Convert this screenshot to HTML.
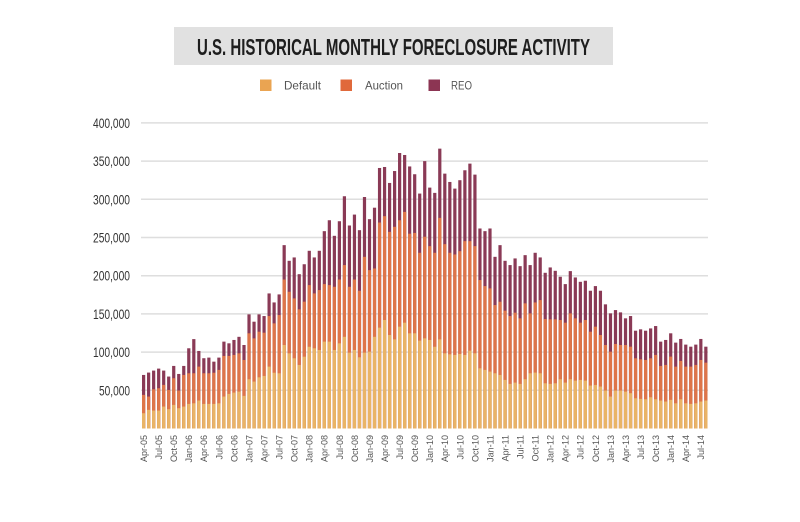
<!DOCTYPE html>
<html>
<head>
<meta charset="utf-8">
<style>
html,body{margin:0;padding:0;background:#fff;}
body{width:800px;height:522px;overflow:hidden;}
svg{display:block;font-family:"Liberation Sans",sans-serif;}
</style>
</head>
<body>
<svg width="800" height="522" viewBox="0 0 800 522" xmlns="http://www.w3.org/2000/svg">
<rect x="0" y="0" width="800" height="522" fill="#ffffff"/>
<!-- Title -->
<rect x="174" y="27" width="439" height="38" fill="#e1e1e1"/>
<text x="393.5" y="55" text-anchor="middle" textLength="393" lengthAdjust="spacingAndGlyphs" font-size="23" font-weight="bold" fill="#1e1e1e">U.S. HISTORICAL MONTHLY FORECLOSURE ACTIVITY</text>
<!-- Legend -->
<rect x="260" y="79.5" width="11.5" height="11.5" fill="#eaa452"/>
<text x="284" y="89.5" font-size="12" fill="#555" textLength="37" lengthAdjust="spacingAndGlyphs">Default</text>
<rect x="340.5" y="79.5" width="11.5" height="11.5" fill="#e0693b"/>
<text x="365" y="89.5" font-size="12" fill="#555" textLength="38" lengthAdjust="spacingAndGlyphs">Auction</text>
<rect x="428.5" y="79.5" width="11.5" height="11.5" fill="#8c3553"/>
<text x="451" y="89.5" font-size="12" fill="#555" textLength="21" lengthAdjust="spacingAndGlyphs">REO</text>
<!-- Gridlines -->
<g stroke="#dedede" stroke-width="1.5">
<line x1="141" y1="122.9" x2="708" y2="122.9"/>
<line x1="141" y1="161.1" x2="708" y2="161.1"/>
<line x1="141" y1="199.3" x2="708" y2="199.3"/>
<line x1="141" y1="237.5" x2="708" y2="237.5"/>
<line x1="141" y1="275.7" x2="708" y2="275.7"/>
<line x1="141" y1="313.9" x2="708" y2="313.9"/>
<line x1="141" y1="352.1" x2="708" y2="352.1"/>
<line x1="141" y1="390.3" x2="708" y2="390.3"/>
</g>
<!-- Y labels -->
<g font-size="13.5" fill="#333" text-anchor="end">
<text x="130" y="127.9" textLength="37" lengthAdjust="spacingAndGlyphs">400,000</text>
<text x="130" y="166.1" textLength="37" lengthAdjust="spacingAndGlyphs">350,000</text>
<text x="130" y="204.3" textLength="37" lengthAdjust="spacingAndGlyphs">300,000</text>
<text x="130" y="242.5" textLength="37" lengthAdjust="spacingAndGlyphs">250,000</text>
<text x="130" y="280.7" textLength="37" lengthAdjust="spacingAndGlyphs">200,000</text>
<text x="130" y="318.9" textLength="37" lengthAdjust="spacingAndGlyphs">150,000</text>
<text x="130" y="357.1" textLength="37" lengthAdjust="spacingAndGlyphs">100,000</text>
<text x="130" y="395.3" textLength="31" lengthAdjust="spacingAndGlyphs">50,000</text>
</g>
<!-- Bars -->
<g transform="translate(142 428.5) scale(5.02 -0.764)">
<g fill="#8a3a56">
<rect x="0" width=".64" height="70.1"/><rect x="1" width=".64" height="73.2"/><rect x="2" width=".64" height="75.8"/><rect x="3" width=".64" height="78.4"/><rect x="4" width=".64" height="75.8"/><rect x="5" width=".64" height="68"/><rect x="6" width=".64" height="81.9"/><rect x="7" width=".64" height="71.4"/><rect x="8" width=".64" height="81.9"/><rect x="9" width=".64" height="105"/>
<rect x="10" width=".64" height="117"/><rect x="11" width=".64" height="101.5"/><rect x="12" width=".64" height="92"/><rect x="13" width=".64" height="92.8"/><rect x="14" width=".64" height="87.5"/><rect x="15" width=".64" height="92.8"/><rect x="16" width=".64" height="113.7"/><rect x="17" width=".64" height="111.5"/><rect x="18" width=".64" height="115.9"/><rect x="19" width=".64" height="120"/>
<rect x="20" width=".64" height="109.3"/><rect x="21" width=".64" height="149.4"/><rect x="22" width=".64" height="139.8"/><rect x="23" width=".64" height="149.4"/><rect x="24" width=".64" height="147.2"/><rect x="25" width=".64" height="176.8"/><rect x="26" width=".64" height="165"/><rect x="27" width=".64" height="175.5"/><rect x="28" width=".64" height="240"/><rect x="29" width=".64" height="219.5"/>
<rect x="30" width=".64" height="223.9"/><rect x="31" width=".64" height="202"/><rect x="32" width=".64" height="215"/><rect x="33" width=".64" height="232.6"/><rect x="34" width=".64" height="223.9"/><rect x="35" width=".64" height="232.6"/><rect x="36" width=".64" height="258.3"/><rect x="37" width=".64" height="272.6"/><rect x="38" width=".64" height="252.2"/><rect x="39" width=".64" height="271.3"/>
<rect x="40" width=".64" height="304"/><rect x="41" width=".64" height="265.7"/><rect x="42" width=".64" height="280"/><rect x="43" width=".64" height="259.6"/><rect x="44" width=".64" height="303"/><rect x="45" width=".64" height="274"/><rect x="46" width=".64" height="289"/><rect x="47" width=".64" height="341"/><rect x="48" width=".64" height="342.3"/><rect x="49" width=".64" height="321.4"/>
<rect x="50" width=".64" height="337"/><rect x="51" width=".64" height="360.6"/><rect x="52" width=".64" height="358"/><rect x="53" width=".64" height="343"/><rect x="54" width=".64" height="332.8"/><rect x="55" width=".64" height="307.5"/><rect x="56" width=".64" height="350"/><rect x="57" width=".64" height="315.3"/><rect x="58" width=".64" height="308.4"/><rect x="59" width=".64" height="366.3"/>
<rect x="60" width=".64" height="333.6"/><rect x="61" width=".64" height="322.7"/><rect x="62" width=".64" height="314"/><rect x="63" width=".64" height="325"/><rect x="64" width=".64" height="338"/><rect x="65" width=".64" height="346.7"/><rect x="66" width=".64" height="332.3"/><rect x="67" width=".64" height="261.8"/><rect x="68" width=".64" height="258.3"/><rect x="69" width=".64" height="261.8"/>
<rect x="70" width=".64" height="224.7"/><rect x="71" width=".64" height="240"/><rect x="72" width=".64" height="219.5"/><rect x="73" width=".64" height="213.9"/><rect x="74" width=".64" height="222.6"/><rect x="75" width=".64" height="212.5"/><rect x="76" width=".64" height="226.9"/><rect x="77" width=".64" height="213.9"/><rect x="78" width=".64" height="230"/><rect x="79" width=".64" height="223.9"/>
<rect x="80" width=".64" height="203.8"/><rect x="81" width=".64" height="210.8"/><rect x="82" width=".64" height="206.4"/><rect x="83" width=".64" height="198.6"/><rect x="84" width=".64" height="189"/><rect x="85" width=".64" height="206"/><rect x="86" width=".64" height="197.7"/><rect x="87" width=".64" height="192"/><rect x="88" width=".64" height="193.4"/><rect x="89" width=".64" height="180.3"/>
<rect x="90" width=".64" height="186.4"/><rect x="91" width=".64" height="180.3"/><rect x="92" width=".64" height="162.5"/><rect x="93" width=".64" height="150.7"/><rect x="94" width=".64" height="155"/><rect x="95" width=".64" height="152"/><rect x="96" width=".64" height="144.2"/><rect x="97" width=".64" height="147.2"/><rect x="98" width=".64" height="128"/><rect x="99" width=".64" height="129.8"/>
<rect x="100" width=".64" height="128"/><rect x="101" width=".64" height="131"/><rect x="102" width=".64" height="134.1"/><rect x="103" width=".64" height="113.7"/><rect x="104" width=".64" height="115.9"/><rect x="105" width=".64" height="124.6"/><rect x="106" width=".64" height="112.4"/><rect x="107" width=".64" height="117.2"/><rect x="108" width=".64" height="109.8"/><rect x="109" width=".64" height="107.1"/>
<rect x="110" width=".64" height="109.8"/><rect x="111" width=".64" height="117.2"/><rect x="112" width=".64" height="107.1"/>
</g>
<g fill="#de7549">
<rect x="0" width=".64" height="44"/><rect x="1" width=".64" height="41.8"/><rect x="2" width=".64" height="51.4"/><rect x="3" width=".64" height="52.7"/><rect x="4" width=".64" height="57.1"/><rect x="5" width=".64" height="50.5"/><rect x="6" width=".64" height="65.8"/><rect x="7" width=".64" height="49.7"/><rect x="8" width=".64" height="70.1"/><rect x="9" width=".64" height="72.3"/>
<rect x="10" width=".64" height="72.3"/><rect x="11" width=".64" height="81"/><rect x="12" width=".64" height="72.3"/><rect x="13" width=".64" height="72.3"/><rect x="14" width=".64" height="73"/><rect x="15" width=".64" height="76.7"/><rect x="16" width=".64" height="95"/><rect x="17" width=".64" height="95"/><rect x="18" width=".64" height="96.3"/><rect x="19" width=".64" height="98.4"/>
<rect x="20" width=".64" height="89.7"/><rect x="21" width=".64" height="124.6"/><rect x="22" width=".64" height="118"/><rect x="23" width=".64" height="126.7"/><rect x="24" width=".64" height="125.4"/><rect x="25" width=".64" height="147.2"/><rect x="26" width=".64" height="137.6"/><rect x="27" width=".64" height="148.5"/><rect x="28" width=".64" height="195"/><rect x="29" width=".64" height="179"/>
<rect x="30" width=".64" height="170.3"/><rect x="31" width=".64" height="156"/><rect x="32" width=".64" height="166"/><rect x="33" width=".64" height="187.7"/><rect x="34" width=".64" height="176.8"/><rect x="35" width=".64" height="181.2"/><rect x="36" width=".64" height="189"/><rect x="37" width=".64" height="187.7"/><rect x="38" width=".64" height="185.5"/><rect x="39" width=".64" height="195"/>
<rect x="40" width=".64" height="213.9"/><rect x="41" width=".64" height="185.5"/><rect x="42" width=".64" height="195"/><rect x="43" width=".64" height="180.3"/><rect x="44" width=".64" height="224.7"/><rect x="45" width=".64" height="207.3"/><rect x="46" width=".64" height="209.5"/><rect x="47" width=".64" height="269.6"/><rect x="48" width=".64" height="277.9"/><rect x="49" width=".64" height="257.4"/>
<rect x="50" width=".64" height="264"/><rect x="51" width=".64" height="272.6"/><rect x="52" width=".64" height="283.5"/><rect x="53" width=".64" height="255"/><rect x="54" width=".64" height="256"/><rect x="55" width=".64" height="230"/><rect x="56" width=".64" height="251"/><rect x="57" width=".64" height="238.7"/><rect x="58" width=".64" height="230"/><rect x="59" width=".64" height="275.7"/>
<rect x="60" width=".64" height="241.3"/><rect x="61" width=".64" height="230"/><rect x="62" width=".64" height="227.8"/><rect x="63" width=".64" height="232.1"/><rect x="64" width=".64" height="245.2"/><rect x="65" width=".64" height="245.2"/><rect x="66" width=".64" height="238.7"/><rect x="67" width=".64" height="194.3"/><rect x="68" width=".64" height="186.4"/><rect x="69" width=".64" height="183.4"/>
<rect x="70" width=".64" height="161.6"/><rect x="71" width=".64" height="165.9"/><rect x="72" width=".64" height="154.2"/><rect x="73" width=".64" height="147.2"/><rect x="74" width=".64" height="151.6"/><rect x="75" width=".64" height="144.2"/><rect x="76" width=".64" height="163.8"/><rect x="77" width=".64" height="150.7"/><rect x="78" width=".64" height="165"/><rect x="79" width=".64" height="168.1"/>
<rect x="80" width=".64" height="143.3"/><rect x="81" width=".64" height="142.9"/><rect x="82" width=".64" height="142.9"/><rect x="83" width=".64" height="142"/><rect x="84" width=".64" height="138.5"/><rect x="85" width=".64" height="150.7"/><rect x="86" width=".64" height="144.2"/><rect x="87" width=".64" height="138.5"/><rect x="88" width=".64" height="142"/><rect x="89" width=".64" height="126.7"/>
<rect x="90" width=".64" height="133.3"/><rect x="91" width=".64" height="122.4"/><rect x="92" width=".64" height="109.3"/><rect x="93" width=".64" height="100.6"/><rect x="94" width=".64" height="110.6"/><rect x="95" width=".64" height="109.3"/><rect x="96" width=".64" height="109.3"/><rect x="97" width=".64" height="107.1"/><rect x="98" width=".64" height="91.9"/><rect x="99" width=".64" height="90.6"/>
<rect x="100" width=".64" height="89.7"/><rect x="101" width=".64" height="91.9"/><rect x="102" width=".64" height="96.3"/><rect x="103" width=".64" height="81.9"/><rect x="104" width=".64" height="83.2"/><rect x="105" width=".64" height="94.1"/><rect x="106" width=".64" height="81"/><rect x="107" width=".64" height="88.4"/><rect x="108" width=".64" height="81"/><rect x="109" width=".64" height="81"/>
<rect x="110" width=".64" height="83.2"/><rect x="111" width=".64" height="89.7"/><rect x="112" width=".64" height="86.2"/>
</g>
<g fill="#e9b466">
<rect x="0" width=".64" height="20"/><rect x="1" width=".64" height="24.4"/><rect x="2" width=".64" height="23.5"/><rect x="3" width=".64" height="23.5"/><rect x="4" width=".64" height="28.7"/><rect x="5" width=".64" height="25.3"/><rect x="6" width=".64" height="30.9"/><rect x="7" width=".64" height="26.6"/><rect x="8" width=".64" height="28.7"/><rect x="9" width=".64" height="32.2"/>
<rect x="10" width=".64" height="33"/><rect x="11" width=".64" height="36.6"/><rect x="12" width=".64" height="32.2"/><rect x="13" width=".64" height="32.2"/><rect x="14" width=".64" height="32.2"/><rect x="15" width=".64" height="33"/><rect x="16" width=".64" height="41.8"/><rect x="17" width=".64" height="45.3"/><rect x="18" width=".64" height="47"/><rect x="19" width=".64" height="48.3"/>
<rect x="20" width=".64" height="42.7"/><rect x="21" width=".64" height="64.5"/><rect x="22" width=".64" height="61.4"/><rect x="23" width=".64" height="67"/><rect x="24" width=".64" height="68.8"/><rect x="25" width=".64" height="81"/><rect x="26" width=".64" height="73"/><rect x="27" width=".64" height="72.3"/><rect x="28" width=".64" height="109.3"/><rect x="29" width=".64" height="98.4"/>
<rect x="30" width=".64" height="91.9"/><rect x="31" width=".64" height="83.2"/><rect x="32" width=".64" height="94"/><rect x="33" width=".64" height="107"/><rect x="34" width=".64" height="105"/><rect x="35" width=".64" height="102.8"/><rect x="36" width=".64" height="113.7"/><rect x="37" width=".64" height="113.7"/><rect x="38" width=".64" height="102.8"/><rect x="39" width=".64" height="111.5"/>
<rect x="40" width=".64" height="120"/><rect x="41" width=".64" height="99.3"/><rect x="42" width=".64" height="102.8"/><rect x="43" width=".64" height="93.2"/><rect x="44" width=".64" height="99.3"/><rect x="45" width=".64" height="100.6"/><rect x="46" width=".64" height="120"/><rect x="47" width=".64" height="132"/><rect x="48" width=".64" height="142"/><rect x="49" width=".64" height="122.4"/>
<rect x="50" width=".64" height="116.7"/><rect x="51" width=".64" height="133.3"/><rect x="52" width=".64" height="138.5"/><rect x="53" width=".64" height="124.6"/><rect x="54" width=".64" height="124.6"/><rect x="55" width=".64" height="115"/><rect x="56" width=".64" height="118"/><rect x="57" width=".64" height="115.9"/><rect x="58" width=".64" height="107"/><rect x="59" width=".64" height="116.7"/>
<rect x="60" width=".64" height="98.4"/><rect x="61" width=".64" height="97.1"/><rect x="62" width=".64" height="96.3"/><rect x="63" width=".64" height="97.6"/><rect x="64" width=".64" height="96.3"/><rect x="65" width=".64" height="101.9"/><rect x="66" width=".64" height="98.4"/><rect x="67" width=".64" height="78.8"/><rect x="68" width=".64" height="76.7"/><rect x="69" width=".64" height="74.5"/>
<rect x="70" width=".64" height="72.3"/><rect x="71" width=".64" height="70.1"/><rect x="72" width=".64" height="63.6"/><rect x="73" width=".64" height="58.4"/><rect x="74" width=".64" height="60.1"/><rect x="75" width=".64" height="58.4"/><rect x="76" width=".64" height="64.5"/><rect x="77" width=".64" height="72.3"/><rect x="78" width=".64" height="73.2"/><rect x="79" width=".64" height="72.3"/>
<rect x="80" width=".64" height="59.2"/><rect x="81" width=".64" height="58.4"/><rect x="82" width=".64" height="59.2"/><rect x="83" width=".64" height="64.5"/><rect x="84" width=".64" height="60.1"/><rect x="85" width=".64" height="64.5"/><rect x="86" width=".64" height="62.7"/><rect x="87" width=".64" height="63.6"/><rect x="88" width=".64" height="62.7"/><rect x="89" width=".64" height="56.2"/>
<rect x="90" width=".64" height="57"/><rect x="91" width=".64" height="54.9"/><rect x="92" width=".64" height="49.7"/><rect x="93" width=".64" height="41.8"/><rect x="94" width=".64" height="49.7"/><rect x="95" width=".64" height="49.7"/><rect x="96" width=".64" height="48.3"/><rect x="97" width=".64" height="46.2"/><rect x="98" width=".64" height="39.6"/><rect x="99" width=".64" height="38.8"/>
<rect x="100" width=".64" height="38.3"/><rect x="101" width=".64" height="40.9"/><rect x="102" width=".64" height="38.3"/><rect x="103" width=".64" height="36.6"/><rect x="104" width=".64" height="35.3"/><rect x="105" width=".64" height="37.5"/><rect x="106" width=".64" height="33"/><rect x="107" width=".64" height="38.3"/><rect x="108" width=".64" height="33"/><rect x="109" width=".64" height="32.2"/>
<rect x="110" width=".64" height="33"/><rect x="111" width=".64" height="35.3"/><rect x="112" width=".64" height="36.6"/>
</g>
</g>
<!-- X labels -->
<g font-size="9" fill="#555" text-anchor="end">
<text transform="translate(147.0 435) rotate(-90)">Apr-05</text>
<text transform="translate(162.1 435) rotate(-90)">Jul-05</text>
<text transform="translate(177.1 435) rotate(-90)">Oct-05</text>
<text transform="translate(192.2 435) rotate(-90)">Jan-06</text>
<text transform="translate(207.2 435) rotate(-90)">Apr-06</text>
<text transform="translate(222.3 435) rotate(-90)">Jul-06</text>
<text transform="translate(237.4 435) rotate(-90)">Oct-06</text>
<text transform="translate(252.4 435) rotate(-90)">Jan-07</text>
<text transform="translate(267.5 435) rotate(-90)">Apr-07</text>
<text transform="translate(282.5 435) rotate(-90)">Jul-07</text>
<text transform="translate(297.6 435) rotate(-90)">Oct-07</text>
<text transform="translate(312.7 435) rotate(-90)">Jan-08</text>
<text transform="translate(327.7 435) rotate(-90)">Apr-08</text>
<text transform="translate(342.8 435) rotate(-90)">Jul-08</text>
<text transform="translate(357.8 435) rotate(-90)">Oct-08</text>
<text transform="translate(372.9 435) rotate(-90)">Jan-09</text>
<text transform="translate(388.0 435) rotate(-90)">Apr-09</text>
<text transform="translate(403.0 435) rotate(-90)">Jul-09</text>
<text transform="translate(418.1 435) rotate(-90)">Oct-09</text>
<text transform="translate(433.1 435) rotate(-90)">Jan-10</text>
<text transform="translate(448.2 435) rotate(-90)">Apr-10</text>
<text transform="translate(463.3 435) rotate(-90)">Jul-10</text>
<text transform="translate(478.3 435) rotate(-90)">Oct-10</text>
<text transform="translate(493.4 435) rotate(-90)">Jan-11</text>
<text transform="translate(508.4 435) rotate(-90)">Apr-11</text>
<text transform="translate(523.5 435) rotate(-90)">Jul-11</text>
<text transform="translate(538.6 435) rotate(-90)">Oct-11</text>
<text transform="translate(553.6 435) rotate(-90)">Jan-12</text>
<text transform="translate(568.7 435) rotate(-90)">Apr-12</text>
<text transform="translate(583.7 435) rotate(-90)">Jul-12</text>
<text transform="translate(598.8 435) rotate(-90)">Oct-12</text>
<text transform="translate(613.9 435) rotate(-90)">Jan-13</text>
<text transform="translate(628.9 435) rotate(-90)">Apr-13</text>
<text transform="translate(644.0 435) rotate(-90)">Jul-13</text>
<text transform="translate(659.0 435) rotate(-90)">Oct-13</text>
<text transform="translate(674.1 435) rotate(-90)">Jan-14</text>
<text transform="translate(689.2 435) rotate(-90)">Apr-14</text>
<text transform="translate(704.2 435) rotate(-90)">Jul-14</text>
</g>
</svg>
</body>
</html>
